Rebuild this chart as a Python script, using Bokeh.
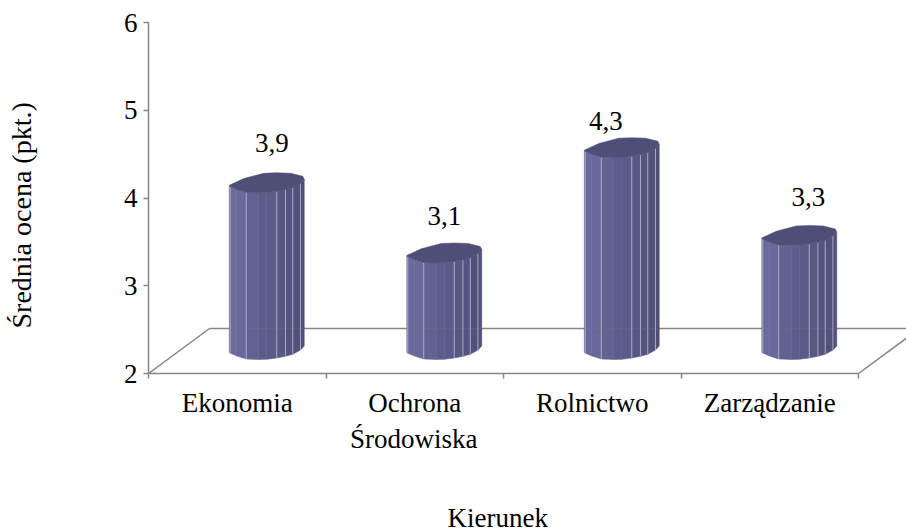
from bokeh.plotting import figure
from bokeh.models import LinearAxis, FixedTicker, Label, Range1d, Title
from bokeh.embed import file_html
from bokeh.resources import INLINE

categories = ["Ekonomia", "Ochrona", "Rolnictwo", "Zarządzanie"]
second_line_category = "Środowiska"
scores = [3.9, 3.1, 4.3, 3.3]
score_labels = ["3,9", "3,1", "4,3", "3,3"]
y_ticks = [2, 3, 4, 5, 6]
label_heights = [4.63, 3.80, 4.88, 4.01]
label_shift_px = [5, 0, -16, 9]
x_title = "Kierunek"
y_title = "Średnia ocena (pkt.)"

FONT = "Liberation Serif"
FS = "27px"
AXC = "#868686"
W, H = 906, 528
PX_X = 177.5
PX_Y = 87.75
L, T, B = 148, 0, H - 373

p = figure(width=W, height=H, output_backend="svg", toolbar_location=None,
           x_range=Range1d(0, (W - L) / PX_X), y_range=Range1d(2, 2 + (H - T - B) / PX_Y),
           min_border_left=L, min_border_right=0, min_border_top=T, min_border_bottom=0,
           x_axis_location=None, y_axis_location=None)
p.grid.visible = False
p.outline_line_color = None
p.background_fill_color = None
p.frame_width = W - L
p.frame_height = H - T - B

n = len(categories)
centers = [i + 0.5 for i in range(n)]

ya = LinearAxis(ticker=FixedTicker(ticks=y_ticks), bounds=(2, 6), axis_line_color=AXC, axis_line_width=1.5,
                major_tick_line_color=AXC, major_tick_line_width=1.5, major_tick_in=0, major_tick_out=5,
                minor_tick_line_color=None, major_label_text_font=FONT,
                major_label_text_font_size=FS, major_label_text_color="black", major_label_standoff=6)
p.add_layout(ya, "left")
# empty axis: only holds the space between the tick labels and the title
p.add_layout(LinearAxis(ticker=FixedTicker(ticks=[]), axis_line_color=None, major_tick_line_color=None,
                        minor_tick_line_color=None, axis_label=" ", axis_label_text_font_size="1px",
                        axis_label_standoff=80), "left")
p.add_layout(Title(text=y_title, align="left", offset=45, standoff=0, text_font=FONT, text_font_size="28px",
                   text_font_style="normal", text_color="black"), "left")

xa = LinearAxis(ticker=FixedTicker(ticks=list(range(n + 1))), bounds=(0, n), axis_line_color=AXC,
                axis_line_width=1.5, major_tick_line_color=AXC, major_tick_line_width=1.5,
                major_tick_in=0, major_tick_out=5, minor_tick_line_color=None,
                major_label_overrides={i: "" for i in range(n + 1)},
                major_label_text_font_size="1px", major_label_standoff=0)
p.add_layout(xa, "below")
xb = LinearAxis(ticker=FixedTicker(ticks=centers), major_label_overrides=dict(zip(centers, categories)),
                axis_line_color=None, major_tick_line_color=None, minor_tick_line_color=None,
                major_label_text_font=FONT, major_label_text_font_size=FS,
                major_label_text_color="black", major_label_standoff=3)
p.add_layout(xb, "below")
t2 = centers[1] - 1 / PX_X
xc = LinearAxis(ticker=FixedTicker(ticks=[t2]), major_label_overrides={t2: second_line_category},
                axis_line_color=None, major_tick_line_color=None,
                minor_tick_line_color=None, major_label_text_font=FONT, major_label_text_font_size=FS,
                major_label_text_color="black", major_label_standoff=-3)
p.add_layout(xc, "below")
p.add_layout(Title(text=x_title, align="left", offset=299, standoff=88, text_font=FONT, text_font_size=FS,
                   text_font_style="normal", text_color="black"), "below")

# 3-D floor
DX, DY = 61 / PX_X, 45 / PX_Y
SX, SY = DX / 2 - 1 / PX_X, DY / 2
p.line([0, DX, (W - L) / PX_X + 0.2], [2, 2 + DY, 2 + DY], line_color=AXC, line_width=1.5)
p.line([n, n + DX], [2, 2 + DY], line_color=AXC, line_width=1.5)

# cylinder shape (pixels from the bar axis)
front = [(-37.5, 1.7), (-30, 5), (-20.5, 8), (-8, 8.5), (0, 8.3), (10, 7), (18.7, 5.3), (26, 3.3), (33.7, -1), (37.5, -5)]
back = [(37.5, -5), (36, -8), (24, -11), (10, -11.5), (-3, -11), (-23, -5.7), (-37.5, 1)]
facets = [(-37.5, -30, "#6a6a9b"), (-30, -20.5, "#68689a"), (-20.5, -8, "#616192"), (-8, 0, "#5d5d8d"),
          (0, 10, "#5b5b89"), (10, 18.7, "#575784"), (18.7, 26, "#545480"), (26, 33.7, "#51517b"), (33.7, 37.5, "#4f4f77")]
seams = [-36.5, -20.5, 10, 18.7, 26, 33.7]
TOPC = "#4e4e77"
SEAM = "#a9a9c6"


def fy_at(dx):
    for (a, ya_), (b, yb) in zip(front, front[1:]):
        if a <= dx <= b:
            return ya_ + (yb - ya_) * (dx - a) / (b - a)
    return front[-1][1]


for i, v in enumerate(scores):
    cx = centers[i] + SX
    y0 = 2 + SY
    y1 = v + SY
    X = lambda d: cx + d / PX_X
    Y = lambda base, d: base - d / PX_Y
    for a, b, c in facets:
        xs = [X(a), X(b), X(b), X(a)]
        ys = [Y(y0, fy_at(a)), Y(y0, fy_at(b)), Y(y1, fy_at(b)), Y(y1, fy_at(a))]
        p.patch(xs, ys, fill_color=c, line_color=c, line_width=0.5)
    for s in seams:
        p.line([X(s), X(s)], [Y(y0, fy_at(s)), Y(y1, fy_at(s))], line_color=SEAM, line_width=1)
    outline = front + back[1:]
    p.patch([X(d[0]) for d in outline], [Y(y1, d[1]) for d in outline], fill_color=TOPC, line_color=TOPC, line_width=0.5)
    p.line([cx - 37.5 / PX_X, cx + 37.5 / PX_X], [2 + DY, 2 + DY], line_color=AXC, line_width=1.5, line_alpha=0.18)
    p.add_layout(Label(x=cx + label_shift_px[i] / PX_X, y=label_heights[i], text=score_labels[i],
                       text_align="center", text_baseline="middle", text_font=FONT,
                       text_font_size=FS, text_color="black"))

open("out.html", "w").write(file_html(p, INLINE))
